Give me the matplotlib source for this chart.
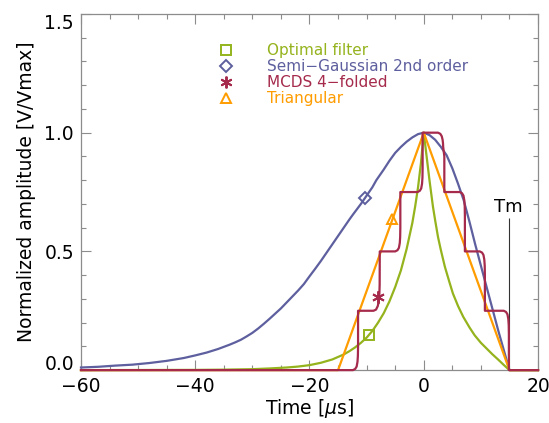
import matplotlib
matplotlib.use("Agg")
import matplotlib.pyplot as plt
from matplotlib.lines import Line2D
from matplotlib.ticker import MultipleLocator, FixedLocator, FormatStrFormatter

# --- data ---
blue_x = [-60, -57, -54, -51, -48, -45, -42, -40, -38, -36, -35, -34, -33, -32,
          -31, -30, -29, -28, -27, -26, -25, -24, -23, -22, -21, -20, -19, -18,
          -17, -16, -15, -14, -13, -12.4, -11, -10, -9, -8.3, -7, -6, -5, -4,
          -3, -2, -1, 0, 1, 2, 3, 4, 5, 6, 7, 8, 9, 10, 11, 12, 13, 14, 15, 20]
blue_y = [0.011, 0.014, 0.019, 0.023, 0.030, 0.039, 0.051, 0.062, 0.074, 0.089,
          0.098, 0.107, 0.117, 0.128, 0.142, 0.157, 0.175, 0.195, 0.216, 0.238,
          0.26, 0.285, 0.31, 0.335, 0.362, 0.395, 0.427, 0.46, 0.495, 0.53,
          0.565, 0.60, 0.635, 0.655, 0.70, 0.735, 0.77, 0.80, 0.845, 0.882,
          0.915, 0.94, 0.962, 0.98, 0.994, 1.0, 0.99, 0.97, 0.94, 0.905, 0.85,
          0.785, 0.715, 0.625, 0.53, 0.44, 0.35, 0.26, 0.17, 0.085, 0.0, 0.0]

green_x = [-60, -40, -35, -30, -27, -24, -22, -20, -18, -16, -14, -13, -12, -11,
           -10, -9, -8, -7, -6, -5, -4, -3, -2, -1.5, -1, -0.5, 0, 0.5, 1, 1.6,
           2, 2.5, 3, 3.7, 4.5, 5.1, 6, 6.9, 8, 8.9, 10, 11, 12, 13, 14, 15, 20]
green_y = [0.0, 0.001, 0.002, 0.004, 0.007, 0.011, 0.015, 0.021, 0.031, 0.045,
           0.066, 0.08, 0.096, 0.115, 0.137, 0.165, 0.20, 0.24, 0.29, 0.35,
           0.42, 0.51, 0.62, 0.69, 0.77, 0.87, 1.0, 0.90, 0.80, 0.69, 0.63,
           0.56, 0.505, 0.435, 0.37, 0.323, 0.27, 0.225, 0.18, 0.147, 0.115,
           0.091, 0.067, 0.045, 0.022, 0.0, 0.0]

orange_x = [-60, -15, 0, 15, 20]
orange_y = [0, 0, 1, 0, 0]

red_x = [-60, -12.4, -12.0, -11.75, -11.6, -11.53, -11.5, -11.5,
         -8.8, -8.35, -8.05, -7.87, -7.77, -7.72, -7.7,
         -5.0, -4.6, -4.35, -4.2, -4.13, -4.1, -4.1,
         -1.1, -0.7, -0.45, -0.3, -0.23, -0.2, -0.2,
         2.5, 2.9, 3.15, 3.3, 3.37, 3.4, 3.6, 3.6,
         6.3, 6.7, 6.95, 7.1, 7.17, 7.2, 7.2,
         9.8, 10.2, 10.45, 10.6, 10.67, 10.7, 10.7,
         14.0, 14.4, 14.65, 14.8, 14.87, 14.9, 14.9, 20]
red_y = [0, 0, 0.005, 0.015, 0.035, 0.06, 0.1, 0.25,
         0.25, 0.255, 0.27, 0.29, 0.32, 0.36, 0.5,
         0.5, 0.505, 0.515, 0.535, 0.56, 0.6, 0.75,
         0.75, 0.755, 0.765, 0.785, 0.81, 0.85, 1.0,
         1.0, 0.995, 0.985, 0.97, 0.955, 0.94, 0.9, 0.75,
         0.75, 0.745, 0.735, 0.715, 0.69, 0.65, 0.5,
         0.5, 0.495, 0.485, 0.465, 0.44, 0.4, 0.25,
         0.25, 0.245, 0.235, 0.215, 0.19, 0.15, 0.0, 0.0]

# one marker on each curve
mark_x = [-9.6, -10.2, -8.0, -5.5]
mark_y = [0.147, 0.725, 0.306, 0.636]

labels = ["Optimal filter", "Semi\u2212Gaussian 2nd order", "MCDS 4\u2212folded", "Triangular"]
colors = ["#94b31c", "#5e5f9e", "#a52a4b", "#ff9c00"]
markers = ["s", "D", (6, 2, 0), "^"]
msizes = [7, 6.5, 9, 7.5]

y_ticks = [0.0, 0.5, 1.0, 1.5]

tm_x = 15
tm_top = 0.64

# --- figure ---
plt.rcParams["font.family"] = ["DejaVu Sans"]
fig = plt.figure(figsize=(5.49, 4.23), dpi=100)
ax = fig.add_axes([0.1475, 0.125, 0.8325, 0.842])

curves = [(green_x, green_y), (blue_x, blue_y), (red_x, red_y), (orange_x, orange_y)]
zorders = [3.1, 3.0, 3.3, 3.2]
for i in range(4):
    cx, cy = curves[i]
    ax.plot(cx, cy, color=colors[i], lw=1.6, clip_on=False, zorder=zorders[i],
            solid_joinstyle="round")

for i in range(4):
    ax.plot(mark_x[i], mark_y[i], marker=markers[i], ms=msizes[i], mfc="none",
            mec=colors[i], mew=1.4, linestyle="none", zorder=5)

ax.vlines(tm_x, 0, tm_top, color="#333333", lw=0.8, zorder=2)
ax.text(tm_x - 0.2, tm_top + 0.01, "Tm", ha="center", va="bottom", fontsize=13)

handles = [Line2D([], [], marker=markers[i], ms=msizes[i] - 0.5, mfc="none",
                  mec=colors[i], mew=1.4, linestyle="none") for i in range(4)]
leg = ax.legend(handles, labels, loc="upper left", bbox_to_anchor=(0.301, 0.918),
                frameon=False, fontsize=11, labelspacing=0.07, handlelength=1.0,
                handletextpad=2.2, borderpad=0, borderaxespad=0)
for t, c in zip(leg.get_texts(), colors):
    t.set_color(c)

ax.set_xlim(-60, 20)
ax.set_ylim(0, 1.5)
ax.xaxis.set_major_locator(MultipleLocator(20))
ax.xaxis.set_minor_locator(MultipleLocator(5))
ax.yaxis.set_major_locator(FixedLocator(y_ticks))
ax.yaxis.set_minor_locator(MultipleLocator(0.1))
ax.yaxis.set_major_formatter(FormatStrFormatter("%.1f"))

axis_grey = "#8c8c8c"
for s in ax.spines.values():
    s.set_color(axis_grey)
    s.set_linewidth(0.9)
ax.tick_params(which="both", direction="in", top=True, right=True,
               color=axis_grey, width=0.8, labelsize=13.5, labelcolor="black")
ax.tick_params(which="major", length=7, pad=5)
ax.tick_params(which="minor", length=3.6)

ax.set_xlabel(r"Time [$\mu$s]", fontsize=13.5, labelpad=1)
ax.set_ylabel("Normalized amplitude [V/Vmax]", fontsize=13.5, labelpad=6)

# end labels kept inside the axis range, like the reference
yt = ax.yaxis.get_major_ticks()
yt[0].label1.set_verticalalignment("baseline")
yt[-1].label1.set_verticalalignment("top")

fig.savefig("out.png", dpi=100)
